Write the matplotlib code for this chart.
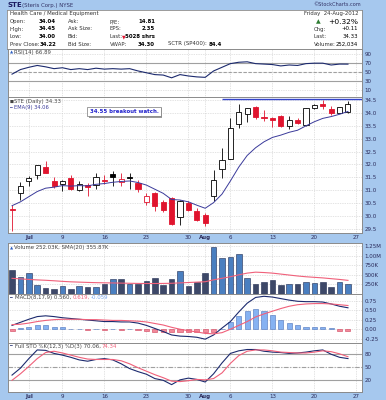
import matplotlib
matplotlib.use("Agg")
import matplotlib.pyplot as plt
import numpy as np
from matplotlib.patches import Rectangle

# --- data (28-Jun-2012 .. 24-Aug-2012) ---
opens = [30.27, 30.90, 31.35, 31.61, 31.89, 31.35, 31.25, 31.48, 31.02, 31.21,
         31.22, 31.38, 31.64, 31.32, 31.50, 31.29, 30.55, 30.90, 30.53, 30.70,
         29.96, 30.50, 30.18, 30.03, 30.76, 31.83, 32.22, 33.58, 33.97, 34.23,
         33.83, 33.81, 33.88, 33.49, 33.71, 33.55, 34.20, 34.33, 34.14, 34.01,
         34.04]
highs = [30.44, 31.33, 31.54, 31.97, 32.15, 31.52, 31.40, 31.61, 31.35, 31.30,
         31.67, 31.61, 31.76, 31.67, 31.67, 31.38, 30.90, 30.95, 30.64, 30.75,
         30.64, 30.60, 30.31, 30.12, 31.80, 32.65, 33.79, 34.36, 34.20, 34.27,
         34.10, 33.85, 33.94, 33.88, 33.81, 34.18, 34.35, 34.50, 34.29, 34.25,
         34.45]
lows = [29.40, 30.64, 31.15, 31.45, 31.66, 31.09, 30.99, 31.00, 30.96, 30.79,
        31.06, 31.25, 31.15, 31.15, 31.03, 30.94, 30.44, 30.18, 30.16, 29.66,
        29.66, 30.20, 29.79, 29.62, 30.60, 31.48, 32.22, 33.40, 33.66, 33.75,
        33.68, 33.45, 33.45, 33.36, 33.58, 33.50, 34.15, 34.14, 33.92, 33.98,
        34.00]
closes = [30.24, 31.18, 31.48, 31.97, 31.68, 31.18, 31.35, 31.05, 31.26, 31.13,
          31.50, 31.35, 31.50, 31.45, 31.48, 31.03, 30.79, 30.38, 30.25, 29.69,
          30.57, 30.25, 29.86, 29.73, 31.39, 32.19, 33.40, 34.05, 34.18, 33.84,
          33.80, 33.72, 33.49, 33.71, 33.62, 34.18, 34.30, 34.29, 34.01, 34.22,
          34.33]
ema9 = [30.40, 30.55, 30.75, 30.95, 31.08, 31.12, 31.18, 31.16, 31.18, 31.17,
        31.23, 31.26, 31.31, 31.34, 31.36, 31.30, 31.20, 31.04, 30.88, 30.64,
        30.62, 30.55, 30.42, 30.30, 30.52, 30.85, 31.36, 31.90, 32.35, 32.65,
        32.88, 33.05, 33.14, 33.25, 33.33, 33.50, 33.66, 33.79, 33.86, 33.95,
        34.06]
rsi14 = [45, 55, 60, 64, 61, 57, 59, 55, 57, 55,
         58, 56, 57, 56, 57, 52, 48, 44, 43, 37,
         44, 41, 39, 38, 52, 60, 68, 71, 72, 68,
         67, 66, 63, 65, 64, 68, 69, 69, 65, 67,
         66.89]
volume_k = [631, 452, 543, 229, 167, 140, 202, 121, 202, 183,
            175, 256, 390, 382, 256, 274, 336, 409, 229, 382,
            605, 202, 318, 543, 1232, 928, 974, 1036, 409, 274,
            301, 363, 229, 256, 274, 301, 291, 301, 183, 301,
            252]
vol_sma20_k = [409, 395, 380, 368, 358, 345, 330, 318, 310, 302,
               296, 292, 288, 284, 280, 276, 274, 274, 276, 280,
               290, 300, 310, 320, 370, 410, 450, 500, 545, 570,
               560, 545, 520, 495, 470, 450, 435, 420, 400, 380,
               355.87]
macd = [0.10, 0.18, 0.26, 0.33, 0.35, 0.33, 0.30, 0.28, 0.26, 0.24,
        0.22, 0.20, 0.20, 0.19, 0.19, 0.16, 0.10, 0.02, -0.06, -0.15,
        -0.18, -0.19, -0.21, -0.26, -0.15, 0.03, 0.20, 0.45, 0.68, 0.83,
        0.86, 0.84, 0.80, 0.76, 0.73, 0.72, 0.72, 0.71, 0.66, 0.60,
        0.560]
macd_signal = [0.12, 0.13, 0.16, 0.20, 0.23, 0.25, 0.26, 0.26, 0.26, 0.25,
               0.25, 0.24, 0.23, 0.23, 0.22, 0.21, 0.19, 0.15, 0.11, 0.05,
               0.00, -0.04, -0.07, -0.11, -0.12, -0.09, 0.00, 0.10, 0.20, 0.32,
               0.40, 0.47, 0.54, 0.60, 0.64, 0.66, 0.67, 0.67, 0.66, 0.64,
               0.619]
macd_hist = [-0.05, 0.02, 0.07, 0.10, 0.10, 0.07, 0.05, 0.01, 0.00, -0.01,
             0.01, -0.01, 0.01, -0.01, 0.00, -0.02, -0.04, -0.06, -0.08, -0.08,
             -0.07, -0.07, -0.07, -0.07, -0.06, 0.01, 0.19, 0.35, 0.48, 0.53,
             0.48, 0.38, 0.25, 0.16, 0.10, 0.07, 0.06, 0.05, 0.02, -0.04,
             -0.059]
sto_k = [32, 48, 70, 90, 89, 82, 78, 73, 67, 64,
         68, 70, 67, 58, 47, 40, 34, 24, 20, 10,
         21, 25, 22, 16, 35, 60, 82, 88, 91, 91,
         87, 85, 84, 82, 83, 85, 88, 90, 80, 73,
         70.06]
sto_d = [20, 35, 52, 70, 84, 87, 83, 78, 73, 69,
         68, 68, 68, 65, 58, 49, 41, 33, 26, 18,
         17, 19, 22, 21, 24, 37, 59, 77, 87, 90,
         90, 88, 85, 84, 83, 83, 85, 88, 86, 81,
         74.34]
tick_pos = [2, 6, 11, 16, 21, 23, 26, 31, 36, 41]
tick_labels = ['Jul', '9', '16', '23', '30', 'Aug', '6', '13', '20', '27']
breakout_level = 34.55
breakout_from = 25

# --- figure helpers (pixel layout) ---
W, H = 386, 400
BG = '#a6c8ee'
GRID = '#c8c8c8'
NAVY = '#1c2a6e'
RED = '#e0142e'
PINK = '#f0607a'
LBL = '#2a2a5a'

plt.rcParams['font.family'] = ['DejaVu Sans']
fig = plt.figure(figsize=(W / 100, H / 100), dpi=100)
fig.patch.set_facecolor(BG)
renderer = fig.canvas.get_renderer()


def px_axes(x0, y0, x1, y1):
    return fig.add_axes([x0 / W, 1 - y1 / H, (x1 - x0) / W, (y1 - y0) / H])


def ftext(x, y, s, **kw):
    kw.setdefault('fontsize', 3.9)
    kw.setdefault('va', 'center')
    kw.setdefault('color', '#333333')
    return fig.text(x / W, 1 - y / H, s, **kw)


def seq_text(x, y, parts, **kw):
    # draw coloured pieces one after another on a single line
    for s, col in parts:
        t = ftext(x, y, s, color=col, **kw)
        x += t.get_window_extent(renderer).width + 1.0


n = len(closes)
idx = np.arange(n)
XL = (-0.48, 41.67)


def style_panel(ax, ylim, yticks, ylabels):
    ax.set_xlim(*XL)
    ax.set_ylim(*ylim)
    ax.set_facecolor('white')
    ax.yaxis.tick_right()
    ax.set_yticks(yticks)
    ax.set_yticklabels(ylabels)
    ax.tick_params(axis='y', length=0, pad=2, labelsize=4.0, labelcolor=LBL)
    ax.set_xticks(tick_pos)
    ax.tick_params(axis='x', length=0, labelbottom=False)
    ax.grid(True, color=GRID, lw=0.5, ls=(0, (1, 1.5)))
    ax.set_axisbelow(True)
    for sp in ax.spines.values():
        sp.set_color('#8a8a8a')
        sp.set_linewidth(0.7)


# --- header ---
head = px_axes(7, 10, 362, 49)
head.set_xticks([])
head.set_yticks([])
for sp in head.spines.values():
    sp.set_color('#8a8a8a')
    sp.set_linewidth(0.6)

ftext(8, 5, 'STE', fontsize=5.0, fontweight='bold', color='#1a1a60')
ftext(22, 5, '(Steris Corp.) NYSE', fontsize=3.9, color='#333366')
ftext(361, 5, '©StockCharts.com', fontsize=3.6, color='#333366', ha='right')

ftext(10, 14, 'Health Care / Medical Equipment')
rows = [('Open:', '34.04', 'Ask:', 'P/E:', '14.81'),
        ('High:', '34.45', 'Ask Size:', 'EPS:', '2.35'),
        ('Low:', '34.00', 'Bid:', 'Last:', ''),
        ('Prev Close:', '34.22', 'Bid Size:', 'VWAP:', '34.30')]
for r, (a, av, b, c, cv) in enumerate(rows):
    y = 21.5 + r * 7.5
    ftext(10, y, a)
    ftext(56, y, av, ha='right', fontweight='bold', color='black')
    ftext(68, y, b)
    ftext(110, y, c)
    if cv:
        ftext(155, y, cv, ha='right', fontweight='bold', color='black')
ftext(122, 36.5, '▼', fontsize=3.4, color=RED)
ftext(155, 36.5, '5028 shrs', ha='right', fontweight='bold', color='black')
ftext(168, 44, 'SCTR (SP400):')
ftext(209, 44, '84.4', fontweight='bold', color='black')

ftext(358, 14, 'Friday  24-Aug-2012', ha='right')
ftext(316, 22, '▲', fontsize=4.4, color='#2e7d32')
ftext(358, 21.5, '+0.32%', ha='right', fontsize=5.4, color='black')
ftext(314, 29, 'Chg:')
ftext(358, 29, '+0.11', ha='right', color='black')
ftext(314, 36.5, 'Last:')
ftext(358, 36.5, '34.33', ha='right', color='black')
ftext(314, 44, 'Volume:')
ftext(358, 44, '252,034', ha='right', color='black')

# --- RSI panel ---
ax_rsi = px_axes(8, 49, 362, 97)
style_panel(ax_rsi, (-5, 100), [10, 30, 50, 70, 90], ['10', '30', '50', '70', '90'])
for lvl, ls in [(70, '-'), (30, '-'), (50, (0, (3, 1.5)))]:
    ax_rsi.axhline(lvl, color='#a0a0a0', lw=0.8, ls=ls)
ax_rsi.plot(idx, rsi14, color=NAVY, lw=0.8)
ftext(10, 52.5, '▲', fontsize=3.0, color='#3060c0')
ftext(14, 52.5, 'RSI(14) 66.89', fontsize=3.9, color='#444444')

# --- price panel ---
ax_p = px_axes(8, 97, 362, 233)
pt = np.arange(29.5, 34.51, 0.5)
style_panel(ax_p, (29.34, 34.62), pt, ['%.1f' % v for v in pt])
ax_p.set_xticklabels(tick_labels)
ax_p.tick_params(axis='x', labelbottom=True, labelsize=4.0, labelcolor=LBL, pad=1.5)
for lab in ax_p.get_xticklabels():
    if lab.get_text() in ('Jul', 'Aug'):
        lab.set_fontweight('bold')

prev = np.r_[opens[0], closes[:-1]]
for i in range(n):
    o, h, l, c = opens[i], highs[i], lows[i], closes[i]
    col = 'black' if c >= prev[i] else RED
    ax_p.vlines(i, l, h, color=col, lw=0.6, zorder=3)
    lo, hi = min(o, c), max(o, c)
    hi = max(hi, lo + 0.02)
    fill = 'white' if c > o else col
    ax_p.add_patch(Rectangle((i - 0.3, lo), 0.6, hi - lo, facecolor=fill,
                             edgecolor=col, lw=0.6, zorder=4))
ax_p.plot(idx, ema9, color='#3a3a9a', lw=0.7, zorder=5)
ax_p.hlines(breakout_level, breakout_from, XL[1], color='#3344cc', lw=1.0, zorder=5)

note = ftext(124, 111.5, '34.55 breakout watch.', ha='center', fontsize=3.9,
             fontweight='bold', color='#2222cc', zorder=6,
             bbox=dict(boxstyle='square,pad=0.4', fc='white', ec='#777777', lw=0.5))
bb = note.get_bbox_patch()
note.update_bbox_position_size(renderer)
ext = bb.get_window_extent(renderer)
fig.patches.append(Rectangle(((ext.x0 + 1.5) / W, (ext.y0 - 1.5) / H),
                             ext.width / W, ext.height / H,
                             transform=fig.transFigure, facecolor='#9a9a9a',
                             edgecolor='none', zorder=5))
ftext(10, 101.5, '■', fontsize=3.0, color='#444444')
ftext(14, 101.5, 'STE (Daily) 34.33', fontsize=3.9, color='#444444')
ftext(10, 107.5, '━', fontsize=3.2, color='#3a3a9a')
ftext(14, 107.5, 'EMA(9) 34.06', fontsize=3.7, color='#3a3a9a')

# --- volume panel ---
ax_v = px_axes(8, 243, 362, 294)
vt = [250, 500, 750, 1000, 1250]
style_panel(ax_v, (0, 1331), vt, ['250K', '500K', '750K', '1.00M', '1.25M'])
vol_col = ['#4a7fc0' if closes[i] >= prev[i] else '#3d4868' for i in range(n)]
ax_v.bar(idx, volume_k, width=0.68, color=vol_col, edgecolor='#1e2a50', lw=0.4, zorder=3)
ax_v.plot(idx, vol_sma20_k, color=PINK, lw=0.8, zorder=4)
ftext(10, 248, '▲', fontsize=3.0, color='#3060c0')
ftext(14, 248, 'Volume 252.03K, SMA(20) 355.87K', fontsize=3.9, color='#444444')

# --- MACD panel ---
ax_m = px_axes(8, 294, 362, 343)
mt = [-0.25, 0.0, 0.25, 0.5, 0.75]
style_panel(ax_m, (-0.36, 0.92), mt, ['-0.25', '0.00', '0.25', '0.50', '0.75'])
hist = np.array(macd_hist)
ax_m.bar(idx, hist, width=0.6, color=np.where(hist >= 0, '#86b2f2', '#f2899a'),
         edgecolor=np.where(hist >= 0, '#4a70b8', '#d0405a'), lw=0.4, zorder=3)
ax_m.plot(idx, macd, color=NAVY, lw=0.8, zorder=4)
ax_m.plot(idx, macd_signal, color=PINK, lw=0.8, zorder=4)
ftext(10, 297.5, '━', fontsize=3.2, color=NAVY)
seq_text(15, 297.5, [('MACD(8,17,9) 0.560,', '#444444'), ('0.619,', PINK),
                     ('-0.059', '#7aa6ee')], fontsize=3.9)

# --- stochastic panel ---
ax_s = px_axes(8, 343, 362, 392)
style_panel(ax_s, (-7, 106), [20, 50, 80], ['20', '50', '80'])
ax_s.axhline(80, color='#a0a0a0', lw=0.8)
ax_s.axhline(20, color='#a0a0a0', lw=0.8)
ax_s.axhline(50, color='#a0a0a0', lw=0.8, ls=(0, (4, 1.5, 1, 1.5)))
ax_s.plot(idx, sto_k, color=NAVY, lw=0.8, zorder=4)
ax_s.plot(idx, sto_d, color=PINK, lw=0.8, zorder=4)
ax_s.set_xticklabels(tick_labels)
ax_s.tick_params(axis='x', labelbottom=True, labelsize=4.0, labelcolor=LBL, pad=1.5)
for lab in ax_s.get_xticklabels():
    if lab.get_text() in ('Jul', 'Aug'):
        lab.set_fontweight('bold')
ftext(10, 346.5, '━', fontsize=3.2, color=NAVY)
seq_text(15, 346.5, [('Full STO %K(12,3) %D(3) 70.06,', '#444444'), ('74.34', PINK)],
         fontsize=3.9)

fig.savefig('out.png', dpi=100, facecolor=BG)
